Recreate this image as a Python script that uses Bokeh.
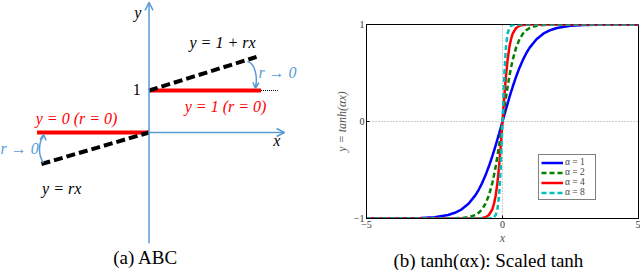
from bokeh.plotting import figure
from bokeh.layouts import row
from bokeh.models import Range1d, FixedTicker, Arrow, OpenHead, Label, Legend, LegendItem, Title
from bokeh.embed import file_html
from bokeh.resources import INLINE

# ---------------- Panel (a): diagram (math coordinates) ----------------
red_low_x = [-1.0, 0.0]
red_low_y = [0.0, 0.0]
red_up_x = [0.0, 1.0]
red_up_y = [1.0, 1.0]
dash_low_x = [-0.96, 0.0]
dash_low_y = [-0.75, 0.0]
dash_up_x = [0.0, 0.96]
dash_up_y = [1.0, 1.8]
dot_x = [1.0, 1.15]
dot_y = [1.0, 1.0]

# ---------------- Panel (b): tanh(alpha x) samples ----------------
x_vals = [-5, -4, -3, -2.5, -2, -1.75, -1.5, -1.25, -1, -0.875, -0.75, -0.625, -0.5,
          -0.375, -0.3125, -0.25, -0.1875, -0.125, -0.0625, 0,
          0.0625, 0.125, 0.1875, 0.25, 0.3125, 0.375, 0.5, 0.625, 0.75, 0.875, 1,
          1.25, 1.5, 1.75, 2, 2.5, 3, 4, 5]
y_a1 = [-1.000, -0.999, -0.995, -0.987, -0.964, -0.941, -0.905, -0.848, -0.762, -0.704,
        -0.635, -0.555, -0.462, -0.358, -0.303, -0.245, -0.185, -0.124, -0.062, 0.0,
        0.062, 0.124, 0.185, 0.245, 0.303, 0.358, 0.462, 0.555, 0.635, 0.704, 0.762,
        0.848, 0.905, 0.941, 0.964, 0.987, 0.995, 0.999, 1.000]
y_a2 = [-1.000, -1.000, -1.000, -1.000, -0.999, -0.998, -0.995, -0.987, -0.964, -0.941,
        -0.905, -0.848, -0.762, -0.635, -0.555, -0.462, -0.358, -0.245, -0.124, 0.0,
        0.124, 0.245, 0.358, 0.462, 0.555, 0.635, 0.762, 0.848, 0.905, 0.941, 0.964,
        0.987, 0.995, 0.998, 0.999, 1.000, 1.000, 1.000, 1.000]
y_a4 = [-1.000, -1.000, -1.000, -1.000, -1.000, -1.000, -1.000, -1.000, -0.999, -0.998,
        -0.995, -0.987, -0.964, -0.905, -0.848, -0.762, -0.635, -0.462, -0.245, 0.0,
        0.245, 0.462, 0.635, 0.762, 0.848, 0.905, 0.964, 0.987, 0.995, 0.998, 0.999,
        1.000, 1.000, 1.000, 1.000, 1.000, 1.000, 1.000, 1.000]
y_a8 = [-1.000, -1.000, -1.000, -1.000, -1.000, -1.000, -1.000, -1.000, -1.000, -1.000,
        -1.000, -1.000, -0.999, -0.995, -0.987, -0.964, -0.905, -0.762, -0.462, 0.0,
        0.462, 0.762, 0.905, 0.964, 0.987, 0.995, 0.999, 1.000, 1.000, 1.000, 1.000,
        1.000, 1.000, 1.000, 1.000, 1.000, 1.000, 1.000, 1.000]
series_labels = ["α = 1", "α = 2", "α = 4", "α = 8"]
x_ticks = [-5, 0, 5]
y_ticks = [-1, 0, 1]

BLUE_AX = "#5B9BD5"
SERIF = "Liberation Serif"

# ---------------- Left figure ----------------
p1 = figure(width=320, height=270, x_range=Range1d(-1.326, 1.531),
            y_range=Range1d(-3.286, 3.143), toolbar_location=None,
            output_backend="svg", min_border=0)
p1.frame_align = False
p1.axis.visible = False
p1.grid.visible = False
p1.outline_line_color = None

# axes with arrowheads
p1.add_layout(Arrow(end=OpenHead(size=8, line_color=BLUE_AX, line_width=1.5),
                    x_start=0, y_start=-2.64, x_end=0, y_end=3.1,
                    line_color=BLUE_AX, line_width=1.5))
p1.add_layout(Arrow(end=OpenHead(size=8, line_color=BLUE_AX, line_width=1.5),
                    x_start=0.0, y_start=0, x_end=1.21, y_end=0,
                    line_color=BLUE_AX, line_width=1.5))

p1.line(dot_x, dot_y, line_color="black", line_width=1, line_dash="1 1")
p1.line(red_low_x, red_low_y, line_color="#FF0000", line_width=4)
p1.line(red_up_x, red_up_y, line_color="#FF0000", line_width=4)
p1.line(dash_low_x, dash_low_y, line_color="black", line_width=4, line_dash="9 4")
p1.line(dash_up_x, dash_up_y, line_color="black", line_width=4, line_dash="9 4")

# curved arrows (r -> 0)
p1.bezier(x0=[0.879], y0=[1.69], x1=[0.951], y1=[1.08],
          cx0=[0.95], cy0=[1.65], cx1=[0.97], cy1=[1.3],
          line_color=BLUE_AX, line_width=1.5)
p1.add_layout(Arrow(end=OpenHead(size=6, line_color=BLUE_AX, line_width=1.5),
                    x_start=0.953, y_start=1.15, x_end=0.951, y_end=1.05,
                    line_color=BLUE_AX, line_width=1.5))
p1.bezier(x0=[-0.942], y0=[-0.72], x1=[-0.942], y1=[-0.08],
          cx0=[-0.99], cy0=[-0.55], cx1=[-0.99], cy1=[-0.25],
          line_color=BLUE_AX, line_width=1.5)
p1.add_layout(Arrow(end=OpenHead(size=6, line_color=BLUE_AX, line_width=1.5),
                    x_start=-0.944, y_start=-0.12, x_end=-0.942, y_end=-0.04,
                    line_color=BLUE_AX, line_width=1.5))

def txt(fig, x, y, s, color="black", size="16px", style="italic", align="center"):
    fig.add_layout(Label(x=x, y=y, text=s, text_color=color, text_font=SERIF,
                         text_font_size=size, text_font_style=style,
                         text_align=align, text_baseline="middle"))

txt(p1, 0.656, 2.14, "y = 1 + rx")
txt(p1, 1.147, 1.43, "r → 0", color=BLUE_AX)
txt(p1, 0.683, 0.62, "y = 1 (r = 0)", color="#FF0000")
txt(p1, -0.647, 0.33, "y = 0 (r = 0)", color="#FF0000")
txt(p1, -1.325, -0.38, "r → 0", color=BLUE_AX, align="left")
txt(p1, -0.78, -1.33, "y = rx")
txt(p1, -0.11, 1.02, "1", style="normal")
txt(p1, -0.10, 2.86, "y")
txt(p1, 1.14, -0.19, "x")
txt(p1, -0.03, -2.98, "(a) ABC", size="19px", style="normal")

# ---------------- Right figure ----------------
p2 = figure(width=320, height=270, x_range=Range1d(-5, 5), y_range=Range1d(-1, 1),
            toolbar_location=None, output_backend="svg",
            min_border_left=46, min_border_right=2, min_border_top=24, min_border_bottom=50)
p2.frame_align = False
p2.outline_line_color = "black"
p2.outline_line_width = 1
for ax in (p2.xaxis[0], p2.yaxis[0]):
    ax.axis_line_color = "black"
    ax.major_tick_in = 3
    ax.major_tick_out = 0
    ax.minor_tick_line_color = None
    ax.major_label_text_font = SERIF
    ax.major_label_text_font_size = "10px"
    ax.major_label_text_color = "#333333"
    ax.axis_label_text_font = SERIF
    ax.axis_label_text_font_size = "12px"
    ax.axis_label_text_font_style = "italic"
    ax.axis_label_text_color = "#555555"
    ax.major_label_standoff = 2
    ax.axis_label_standoff = 0
p2.xaxis.ticker = FixedTicker(ticks=x_ticks)
p2.yaxis.ticker = FixedTicker(ticks=y_ticks)
p2.xaxis.major_label_overrides = {-5: "−5", 0: "0", 5: "5"}
p2.yaxis.major_label_overrides = {-1: "−1", 0: "0", 1: "1"}
p2.xaxis.axis_label = "x"
p2.yaxis.axis_label = "y = tanh(αx)"
p2.yaxis.axis_label_standoff = 2
p2.xgrid.ticker = FixedTicker(ticks=[0])
p2.ygrid.ticker = FixedTicker(ticks=[0])
p2.grid.grid_line_color = "#999999"
p2.grid.grid_line_dash = "1 2"
p2.grid.grid_line_width = 1

r1 = p2.line(x_vals, y_a1, line_color="#0000FF", line_width=2.5)
r2 = p2.line(x_vals, y_a2, line_color="#008000", line_width=2.5, line_dash="5 3")
r3 = p2.line(x_vals, y_a4, line_color="#FF0000", line_width=2.5)
r4 = p2.line(x_vals, y_a8, line_color="#00BFBF", line_width=2.5, line_dash="5 3")

legend = Legend(items=[LegendItem(label=series_labels[i], renderers=[r])
                       for i, r in enumerate([r1, r2, r3, r4])],
                location=(172, 18), border_line_color="black", border_line_width=1,
                padding=2, spacing=0, margin=0, glyph_width=22, glyph_height=9,
                label_height=9, label_width=28, label_standoff=2, label_text_font=SERIF,
                label_text_font_size="9.5px", background_fill_alpha=1)
p2.add_layout(legend)

cap = Title(text="(b) tanh(αx): Scaled tanh", align="left", offset=27, standoff=0,
            text_font=SERIF, text_font_size="19px", text_font_style="normal",
            text_color="black")
p2.add_layout(cap, "below")

layout = row(p1, p2)
open("out.html", "w").write(file_html(layout, INLINE))
